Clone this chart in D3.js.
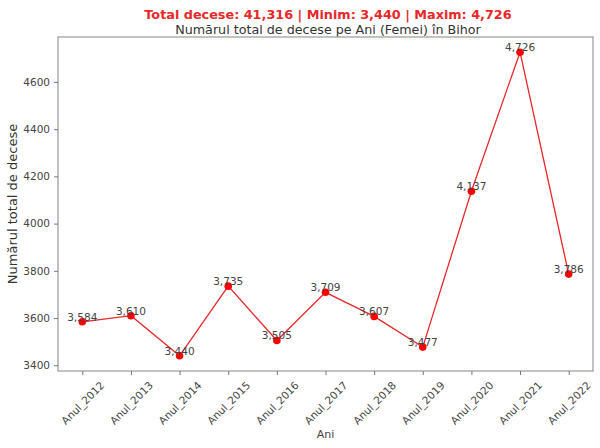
<!DOCTYPE html>
<html>
<head>
<meta charset="utf-8">
<script src="https://cdn.jsdelivr.net/npm/d3@7"></script>
<style>
  body { margin: 0; background: #fff; }
  text { font-family: "DejaVu Sans", sans-serif; }
</style>
</head>
<body>
<div id="chart"></div>
<script>
// Data
const years = ['Anul_2012', 'Anul_2013', 'Anul_2014', 'Anul_2015', 'Anul_2016', 'Anul_2017',
    'Anul_2018', 'Anul_2019', 'Anul_2020', 'Anul_2021', 'Anul_2022'];
const deaths = [3584, 3610, 3440, 3735, 3505, 3709, 3607, 3477, 4137, 4726, 3786];
const yTicks = [3400, 3600, 3800, 4000, 4200, 4400, 4600];

const width = 600, height = 448;
const margin = { top: 37, right: 7, bottom: 77, left: 58 };
const innerW = width - margin.left - margin.right;
const innerH = height - margin.top - margin.bottom;

const fmt = d3.format(',');
const total = d3.sum(deaths), minV = d3.min(deaths), maxV = d3.max(deaths);

const svg = d3.select('#chart').append('svg')
    .attr('width', width)
    .attr('height', height);

// titles
svg.append('text')
    .attr('x', 328).attr('y', 19)
    .attr('text-anchor', 'middle')
    .attr('fill', '#e8272a')
    .style('font-size', '12.8px')
    .style('font-weight', 'bold')
    .text(`Total decese: ${fmt(total)} | Minim: ${fmt(minV)} | Maxim: ${fmt(maxV)}`);

svg.append('text')
    .attr('x', 328).attr('y', 34)
    .attr('text-anchor', 'middle')
    .attr('fill', '#333')
    .style('font-size', '12.7px')
    .text('Numărul total de decese pe Ani (Femei) în Bihor');

const g = svg.append('g')
    .attr('transform', `translate(${margin.left},${margin.top})`);

// matplotlib-like 5% margins
const pad = (maxV - minV) * 0.05;
const x = d3.scalePoint().domain(years).range([0, innerW]).padding(0.5);
const y = d3.scaleLinear().domain([minV - pad, maxV + pad]).range([innerH, 0]);

// frame
g.append('rect')
    .attr('width', innerW).attr('height', innerH)
    .attr('fill', 'none')
    .attr('stroke', '#999')
    .attr('stroke-width', 1.2);

const yAxis = g.append('g')
    .call(d3.axisLeft(y).tickValues(yTicks).tickFormat(d3.format('d')).tickSize(4).tickPadding(4));
const xAxis = g.append('g')
    .attr('transform', `translate(0,${innerH})`)
    .call(d3.axisBottom(x).tickSize(4).tickPadding(3));

[xAxis, yAxis].forEach(ax => {
    ax.select('.domain').remove();
    ax.selectAll('.tick line').attr('stroke', '#777');
    ax.selectAll('.tick text')
        .attr('fill', '#444')
        .style('font-size', '10.5px')
        .style('font-family', '"DejaVu Sans", sans-serif');
});

// rotated labels centred under the tick, like matplotlib rotation=45
xAxis.selectAll('.tick text')
    .attr('text-anchor', 'middle')
    .attr('y', 0)
    .attr('dy', '0.35em')
    .attr('transform', 'translate(0,32) rotate(-45)');

// axis labels
svg.append('text')
    .attr('x', margin.left + innerW / 2).attr('y', 438)
    .attr('text-anchor', 'middle')
    .attr('fill', '#444')
    .style('font-size', '11px')
    .text('Ani');

svg.append('text')
    .attr('transform', `translate(17,${margin.top + innerH / 2}) rotate(-90)`)
    .attr('text-anchor', 'middle')
    .attr('fill', '#333')
    .style('font-size', '13px')
    .text('Numărul total de decese');

// line
const line = d3.line()
    .x((d, i) => x(years[i]))
    .y(d => y(d));

g.append('path')
    .datum(deaths)
    .attr('fill', 'none')
    .attr('stroke', '#e8272a')
    .attr('stroke-width', 1.3)
    .attr('d', line);

g.selectAll('.dot')
    .data(deaths)
    .enter().append('circle')
    .attr('class', 'dot')
    .attr('cx', (d, i) => x(years[i]))
    .attr('cy', d => y(d))
    .attr('r', 3.8)
    .attr('fill', 'red');

g.selectAll('.lbl')
    .data(deaths)
    .enter().append('text')
    .attr('class', 'lbl')
    .attr('x', (d, i) => x(years[i]))
    .attr('y', d => y(d) - 1)
    .attr('text-anchor', 'middle')
    .attr('fill', '#444')
    .style('font-size', '10.5px')
    .text(d => fmt(d));
</script>
</body>
</html>
